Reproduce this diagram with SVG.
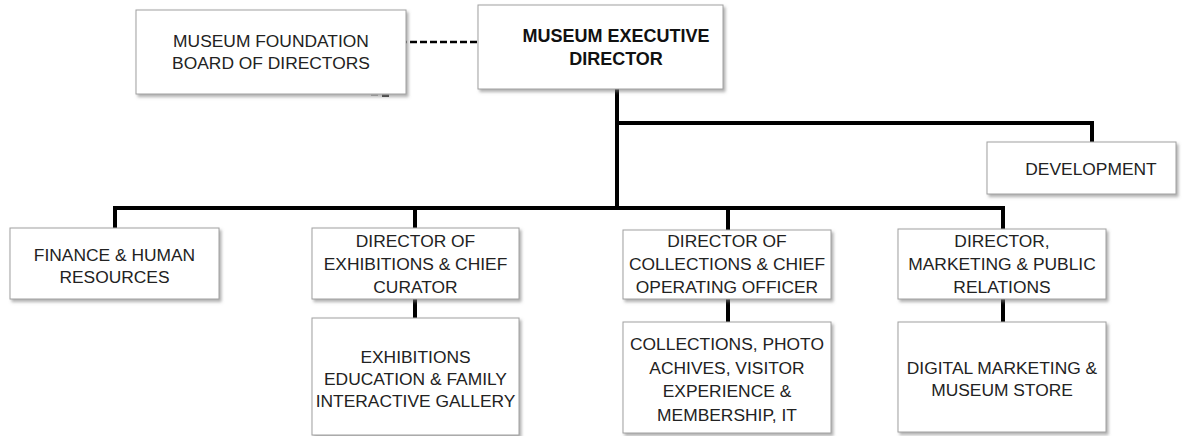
<svg xmlns="http://www.w3.org/2000/svg" width="1188" height="436" viewBox="0 0 1188 436">
  <defs>
    <filter id="shadow" x="-5%" y="-5%" width="115%" height="125%">
      <feDropShadow dx="2" dy="2.5" stdDeviation="1.5" flood-color="#7a7a7a" flood-opacity="0.6"/>
    </filter>
    <style>
      .box { fill: #ffffff; stroke: #a0a0a0; stroke-width: 1; filter: url(#shadow); }
      .lbl { font-family: "Liberation Sans", Arial, sans-serif; font-size: 17.4px; fill: #222222; text-anchor: middle; }
      .bold { font-weight: bold; font-size: 18px; fill: #111111; }
      .link { fill: none; stroke: #000000; stroke-width: 4; stroke-linejoin: miter; stroke-linecap: butt; }
      .dash { fill: none; stroke: #000000; stroke-width: 2.5; stroke-dasharray: 7 3; }
    </style>
  </defs>

  <rect width="1188" height="436" fill="#ffffff"/>

  <!-- connectors -->
  <g id="connectors">
    <line class="dash" x1="400" y1="42" x2="478" y2="42"/>
    <line class="link" x1="617" y1="89" x2="617" y2="210"/>
    <polyline class="link" points="615,123 1092,123 1092,142"/>
    <polyline class="link" points="115,228 115,208 1003,208 1003,229"/>
    <line class="link" x1="415" y1="208" x2="415" y2="228"/>
    <line class="link" x1="728" y1="208" x2="728" y2="230"/>
    <line class="link" x1="415" y1="299" x2="415" y2="318"/>
    <line class="link" x1="728" y1="299" x2="728" y2="322"/>
    <line class="link" x1="1003" y1="299" x2="1003" y2="322"/>
  </g>

  <!-- small stray mark under the board box -->
  <g id="mark">
    <rect x="371" y="94.5" width="7" height="1.5" fill="#b0b0b0"/>
    <rect x="382" y="94.5" width="7" height="2.5" fill="#333333"/>
  </g>

  <g id="board">
    <rect class="box" x="136" y="10" width="270" height="84"/>
    <text class="lbl" x="271" y="47">MUSEUM FOUNDATION</text>
    <text class="lbl" x="271" y="69">BOARD OF DIRECTORS</text>
  </g>

  <g id="executive">
    <rect class="box" x="478" y="5" width="245" height="84"/>
    <text class="lbl bold" x="616" y="42">MUSEUM EXECUTIVE</text>
    <text class="lbl bold" x="616" y="65">DIRECTOR</text>
  </g>

  <g id="development">
    <rect class="box" x="987" y="142" width="189" height="52"/>
    <text class="lbl" x="1091" y="175">DEVELOPMENT</text>
  </g>

  <g id="finance">
    <rect class="box" x="10" y="228" width="209" height="71"/>
    <text class="lbl" x="114.5" y="261">FINANCE &amp; HUMAN</text>
    <text class="lbl" x="114.5" y="283">RESOURCES</text>
  </g>

  <g id="exhibitions-director">
    <rect class="box" x="312" y="228" width="207" height="71"/>
    <text class="lbl" x="415.5" y="247">DIRECTOR OF</text>
    <text class="lbl" x="415.5" y="270">EXHIBITIONS &amp; CHIEF</text>
    <text class="lbl" x="415.5" y="293">CURATOR</text>
  </g>

  <g id="exhibitions-dept">
    <rect class="box" x="312" y="318" width="207" height="117"/>
    <text class="lbl" x="415.5" y="363">EXHIBITIONS</text>
    <text class="lbl" x="415.5" y="385">EDUCATION &amp; FAMILY</text>
    <text class="lbl" x="415.5" y="407">INTERACTIVE GALLERY</text>
  </g>

  <g id="collections-director">
    <rect class="box" x="623" y="230" width="208" height="69"/>
    <text class="lbl" x="727" y="247">DIRECTOR OF</text>
    <text class="lbl" x="727" y="270">COLLECTIONS &amp; CHIEF</text>
    <text class="lbl" x="727" y="293">OPERATING OFFICER</text>
  </g>

  <g id="collections-dept">
    <rect class="box" x="623" y="322" width="208" height="111"/>
    <text class="lbl" x="727" y="350">COLLECTIONS, PHOTO</text>
    <text class="lbl" x="727" y="374">ACHIVES, VISITOR</text>
    <text class="lbl" x="727" y="397">EXPERIENCE &amp;</text>
    <text class="lbl" x="727" y="421">MEMBERSHIP, IT</text>
  </g>

  <g id="marketing-director">
    <rect class="box" x="898" y="229" width="208" height="70"/>
    <text class="lbl" x="1002" y="247">DIRECTOR,</text>
    <text class="lbl" x="1002" y="270">MARKETING &amp; PUBLIC</text>
    <text class="lbl" x="1002" y="293">RELATIONS</text>
  </g>

  <g id="marketing-dept">
    <rect class="box" x="898" y="322" width="208" height="110"/>
    <text class="lbl" x="1002" y="374">DIGITAL MARKETING &amp;</text>
    <text class="lbl" x="1002" y="396">MUSEUM STORE</text>
  </g>
</svg>
